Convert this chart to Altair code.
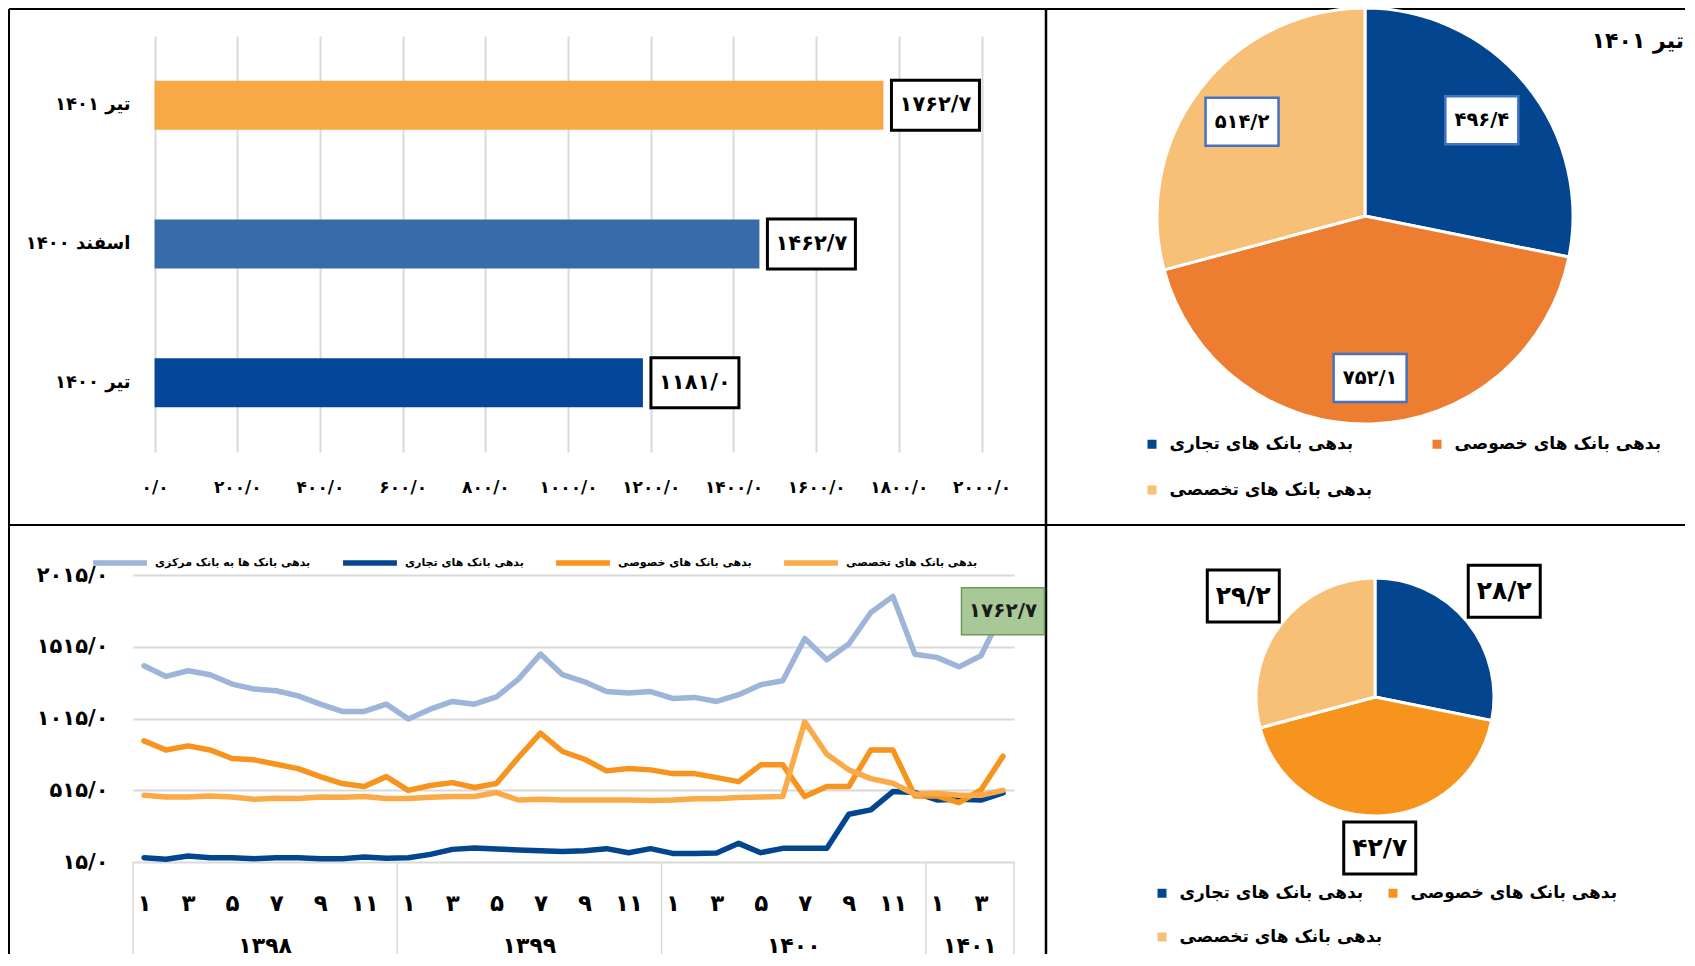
import altair as alt
import pandas as pd

FONT = "DejaVu Sans"

# ---------------- bar chart (top-left) ----------------
bar_cats = ["تیر ۱۴۰۱", "اسفند ۱۴۰۰", "تیر ۱۴۰۰"]
bar_vals = [1762.7, 1462.7, 1181.0]
bar_text = ["۱۷۶۲/۷", "۱۴۶۲/۷", "۱۱۸۱/۰"]
bar_colors = ["#F6A945", "#386BAA", "#04479A"]
bar_ticks = [0, 200, 400, 600, 800, 1000, 1200, 1400, 1600, 1800, 2000]
bar_tick_text = ["۰/۰", "۲۰۰/۰", "۴۰۰/۰", "۶۰۰/۰", "۸۰۰/۰", "۱۰۰۰/۰",
                 "۱۲۰۰/۰", "۱۴۰۰/۰", "۱۶۰۰/۰", "۱۸۰۰/۰", "۲۰۰۰/۰"]

# ---------------- line chart (bottom-left) ----------------
series_names = ["بدهی بانک ها به بانک مرکزی", "بدهی بانک های تجاری",
                "بدهی بانک های خصوصی", "بدهی بانک های تخصصی"]
series_colors = ["#9CB5D8", "#03468F", "#F7941D", "#FBAA48"]
central = [1382, 1308, 1348, 1320, 1255, 1220, 1208, 1173, 1115, 1064, 1064, 1115,
           1012, 1080, 1134, 1115, 1166, 1289, 1464, 1320, 1271, 1203, 1192, 1203,
           1155, 1162, 1134, 1181.0, 1250, 1278, 1573, 1424, 1534, 1754, 1866, 1462.7,
           1441, 1375, 1452, 1762.7]
commercial = [45, 34, 57, 45, 45, 38, 45, 45, 38, 38, 50, 41,
              45, 68, 103, 113, 106, 99, 94, 89, 94, 108, 80, 108,
              75, 75, 78, 145, 80, 110, 110, 110, 348, 378, 506, 499,
              447, 452, 447, 496.4]
private = [859, 796, 824, 796, 736, 727, 696, 666, 610, 562, 541, 610,
           514, 548, 568, 534, 562, 743, 913, 785, 731, 650, 666, 657,
           631, 631, 603, 575, 692, 692, 471, 541, 541, 796, 796, 475,
           475, 429, 517, 752.1]
special = [480, 468, 468, 475, 468, 452, 459, 457, 468, 466, 471, 457,
           457, 466, 471, 471, 499, 447, 452, 447, 447, 447, 447, 443,
           447, 455, 456, 464, 468, 471, 992, 766, 657, 596, 564, 487,
           494, 480, 480, 514.2]
years = ["۱۳۹۸", "۱۳۹۹", "۱۴۰۰", "۱۴۰۱"]
year_months = [12, 12, 12, 4]
month_text = ["۱", "۲", "۳", "۴", "۵", "۶", "۷", "۸", "۹", "۱۰", "۱۱", "۱۲"]
line_y_ticks = [15, 515, 1015, 1515, 2015]
line_y_text = ["۱۵/۰", "۵۱۵/۰", "۱۰۱۵/۰", "۱۵۱۵/۰", "۲۰۱۵/۰"]
last_text = "۱۷۶۲/۷"

# ---------------- pies (right) ----------------
pie_names = ["بدهی بانک های تجاری", "بدهی بانک های خصوصی", "بدهی بانک های تخصصی"]
pie1_vals = [496.4, 752.1, 514.2]
pie1_text = ["۴۹۶/۴", "۷۵۲/۱", "۵۱۴/۲"]
pie1_colors = ["#03468F", "#ED7D31", "#F8BF76"]
pie1_title = "تیر ۱۴۰۱"
pie2_vals = [28.2, 42.7, 29.2]
pie2_text = ["۲۸/۲", "۴۲/۷", "۲۹/۲"]
pie2_colors = ["#03468F", "#F7941D", "#F8BF76"]


def arr(lst):
    return "[" + ",".join(repr(v) if not isinstance(v, str) else "'" + v + "'" for v in lst) + "]"


def rect_shape(w, h):
    r = h / w
    return f"M-1,-{r:.4f}L1,-{r:.4f}L1,{r:.4f}L-1,{r:.4f}Z"


one = alt.Data(values=[{"a": 1}])

# =============== BAR PANEL ===============
BW, BH = 881, 416
bar_df = pd.DataFrame({"cat": bar_cats, "v": bar_vals, "t": bar_text})
bx = alt.X("v:Q", scale=alt.Scale(domain=[-52.2, 2078.4], nice=False, zero=False),
           axis=alt.Axis(values=bar_ticks,
                         labelExpr=f"{arr(bar_tick_text)}[indexof({arr(bar_ticks)}, datum.value)]",
                         grid=True, gridColor="#D9D9D9", gridWidth=2, domain=False, ticks=False,
                         labelPadding=27, labelFontSize=17, labelFontWeight="bold",
                         labelColor="black", labelFont=FONT, title=None))
by = alt.Y("cat:N", sort=bar_cats, scale=alt.Scale(paddingInner=0, paddingOuter=0),
           axis=alt.Axis(title=None, domain=False, ticks=False, labelPadding=3,
                         labelFontSize=18, labelFontWeight="bold", labelColor="black",
                         labelFont=FONT))
bars = alt.Chart(bar_df).mark_bar(size=49).encode(
    x=bx, x2=alt.datum(0), y=by,
    color=alt.Color("cat:N", scale=alt.Scale(domain=bar_cats, range=bar_colors), legend=None))
bar_boxes = alt.Chart(bar_df).mark_point(
    shape=rect_shape(88, 50), size=88 * 88, filled=True, fill="white", stroke="black",
    strokeWidth=3, opacity=1, xOffset=52).encode(x=bx, y=by)
bar_lbl = alt.Chart(bar_df).mark_text(
    fontSize=21, fontWeight="bold", font=FONT, color="black", xOffset=52).encode(
    x=bx, y=by, text="t:N")


def hrule(y, x1, x2, w=2):
    return alt.Chart(one).mark_rule(color="black", strokeWidth=w).encode(
        x=alt.value(x1), x2=alt.value(x2), y=alt.value(y))


def vrule(x, y1, y2, w=2):
    return alt.Chart(one).mark_rule(color="black", strokeWidth=w).encode(
        x=alt.value(x), y=alt.value(y1), y2=alt.value(y2))


borders = [hrule(-27, -124, 1552), hrule(489, -124, 1552),
           vrule(-124, -27, 918), vrule(913, -27, 918, 2.5)]
bar_panel = alt.layer(bars, bar_boxes, bar_lbl, *borders).properties(width=BW, height=BH)

# =============== LINE PANEL ===============
LW, LH = 881, 287
n = len(central)
month_by_idx = []
for yr, cnt in zip(years, year_months):
    month_by_idx += month_text[:cnt]
odd_idx = [i for i, m in enumerate(month_by_idx) if month_text.index(m) % 2 == 0]
rows = []
for s, vals in zip(series_names, [central, commercial, private, special]):
    for i, v in enumerate(vals):
        rows.append({"i": i, "series": s, "v": v})
line_df = pd.DataFrame(rows)

bounds_list = [-0.5]
for cnt in year_months:
    bounds_list.append(bounds_list[-1] + cnt)
year_df = pd.DataFrame({"year": years, "s": bounds_list[:-1], "e": bounds_list[1:]})
bnd_df = pd.DataFrame({"b": bounds_list})

x_axis = alt.Axis(values=odd_idx, labelExpr=f"{arr(month_by_idx)}[datum.value]",
                  domain=False, ticks=False, grid=False, labelPadding=30,
                  labelFontSize=23, labelFontWeight="bold", labelColor="black",
                  labelFont=FONT, title=None)
x_scale = alt.Scale(domain=[-0.5, n - 0.5], nice=False, zero=False)
y_axis = alt.Axis(values=line_y_ticks,
                  labelExpr=f"{arr(line_y_text)}[indexof({arr(line_y_ticks)}, datum.value)]",
                  grid=True, gridColor="#D9D9D9", gridWidth=2, domain=False, ticks=False,
                  labelPadding=25, labelFontSize=21, labelFontWeight="bold",
                  labelColor="black", labelFont=FONT, title=None)
y_scale = alt.Scale(domain=[15, 2015], nice=False, zero=False)

lines = alt.Chart(line_df).mark_line(strokeWidth=5.5, strokeJoin="round", strokeCap="round").encode(
    x=alt.X("i:Q", scale=x_scale, axis=x_axis),
    y=alt.Y("v:Q", scale=y_scale, axis=y_axis),
    color=alt.Color("series:N", sort=series_names,
                    scale=alt.Scale(domain=series_names, range=series_colors),
                    legend=alt.Legend(orient="none", legendX=-43, legendY=-42,
                                      direction="horizontal", title=None, values=series_names,
                                      symbolType="stroke", symbolSize=2900,
                                      symbolStrokeWidth=5.5, labelFontSize=11,
                                      labelFontWeight="bold", labelFont=FONT,
                                      labelColor="black", columnPadding=21,
                                      labelOffset=5, labelLimit=0, padding=0)))
last_base = alt.Chart(line_df).transform_filter(
    f"datum.series == '{series_names[0]}' && datum.i == {n - 1}").transform_calculate(t=f"'{last_text}'")
green_box = last_base.mark_point(
    shape=rect_shape(83, 47), size=83 * 83, filled=True, fill="#A8C898", stroke="#6E9A5C",
    strokeWidth=1.5, opacity=1).encode(
    x=alt.X("i:Q", scale=x_scale, axis=x_axis), y=alt.Y("v:Q", scale=y_scale, axis=y_axis))
green_txt = last_base.mark_text(fontSize=20, fontWeight="bold", font=FONT, color="#1a1a1a").encode(
    x=alt.X("i:Q", scale=x_scale, axis=x_axis), y=alt.Y("v:Q", scale=y_scale, axis=y_axis),
    text="t:N")
sep = alt.Chart(bnd_df).mark_rule(color="#D9D9D9", strokeWidth=1.5).encode(
    x=alt.X("b:Q", scale=x_scale, axis=x_axis), y=alt.value(LH), y2=alt.value(LH + 92))
year_lbl = alt.Chart(year_df).transform_calculate(m="(datum.s + datum.e) / 2").mark_text(
    fontSize=22, fontWeight="bold", font=FONT, color="black", baseline="alphabetic").encode(
    x=alt.X("m:Q", scale=x_scale, axis=x_axis), y=alt.value(LH + 91), text="year:N")
line_panel = alt.layer(sep, year_lbl, lines, green_box, green_txt).properties(width=LW, height=LH)


# =============== PIE PANELS ===============
def pie_panel(vals, texts, colors, W, H, cx, cy, R, lr, bw, bh, bstroke, bsw, fs,
              lx, ly, cpad, rpad, title=None):
    df = pd.DataFrame({"name": pie_names, "v": vals, "t": texts, "k": list(range(len(vals)))})
    base = alt.Chart(df)
    # legend fills column by column: order entries so rows read like the original
    legend_order = [pie_names[0], pie_names[2], pie_names[1]]
    arcs = base.mark_arc(radius=R, stroke="white", strokeWidth=3).encode(
        theta=alt.Theta("v:Q", stack=True),
        order=alt.Order("k:Q", sort="ascending"),
        color=alt.Color("name:N", sort=pie_names,
                        scale=alt.Scale(domain=pie_names, range=colors),
                        legend=alt.Legend(orient="none", legendX=lx, legendY=ly, columns=2,
                                          values=legend_order,
                                          title=None, symbolType="square", symbolSize=81,
                                          symbolStrokeWidth=0, labelFontSize=17,
                                          labelFontWeight="bold", labelFont=FONT,
                                          labelColor="black", columnPadding=cpad,
                                          rowPadding=rpad, labelOffset=9, labelLimit=0,
                                          padding=0)),
        x=alt.value(cx), y=alt.value(cy))
    pos = base.transform_joinaggregate(tot="sum(v)").transform_window(
        cum="sum(v)", sort=[alt.SortField("k")], frame=[None, 0]).transform_calculate(
        a="2*PI*(datum.cum - datum.v/2)/datum.tot",
        r=f"{arr(lr)}[datum.k]").transform_calculate(
        px=f"{cx} + datum.r*sin(datum.a)",
        py=f"{cy} - datum.r*cos(datum.a)")
    xs = alt.X("px:Q", scale=alt.Scale(domain=[0, W], nice=False, zero=False), axis=None)
    ys = alt.Y("py:Q", scale=alt.Scale(domain=[0, H], nice=False, zero=False, reverse=True), axis=None)
    boxes = pos.mark_point(shape=rect_shape(bw, bh), size=bw * bw, filled=True, fill="white",
                           stroke=bstroke, strokeWidth=bsw, opacity=1).encode(x=xs, y=ys)
    lbls = pos.mark_text(fontSize=fs, fontWeight="bold", font=FONT, color="black").encode(
        x=xs, y=ys, text="t:N")
    layers = [arcs, boxes, lbls]
    if title is not None:
        layers.append(alt.Chart(alt.Data(values=[{"t": title}])).mark_text(
            fontSize=22, fontWeight="bold", font=FONT, color="black", align="right",
            baseline="middle").encode(x=alt.value(W + 4), y=alt.value(5), text="t:N"))
    return alt.layer(*layers).properties(width=W, height=H)


PW = 620
pie1_panel = pie_panel(pie1_vals, pie1_text, pie1_colors, PW, BH, 305, 180, 208, [151, 162, 155],
                       73, 48, "#4472C4", 2.5, 19.5, 83.5, 399.5, 56, 28, title=pie1_title)
pie2_panel = pie_panel(pie2_vals, pie2_text, pie2_colors, PW, LH, 315, 122, 119, [167, 151, 166],
                       72, 52, "black", 3, 25, 93.5, 309.5, 2, 26)

chart = alt.concat(bar_panel, pie1_panel, line_panel, pie2_panel, columns=2,
                   spacing={"row": 123, "column": 46}, bounds="flush", align="each").resolve_scale(
    color="independent").properties(
    padding={"left": 0, "top": -6, "right": 0, "bottom": 0}).configure(font=FONT).configure_view(stroke=None)

chart.save("out.html", embed_options={"renderer": "svg", "actions": False})
